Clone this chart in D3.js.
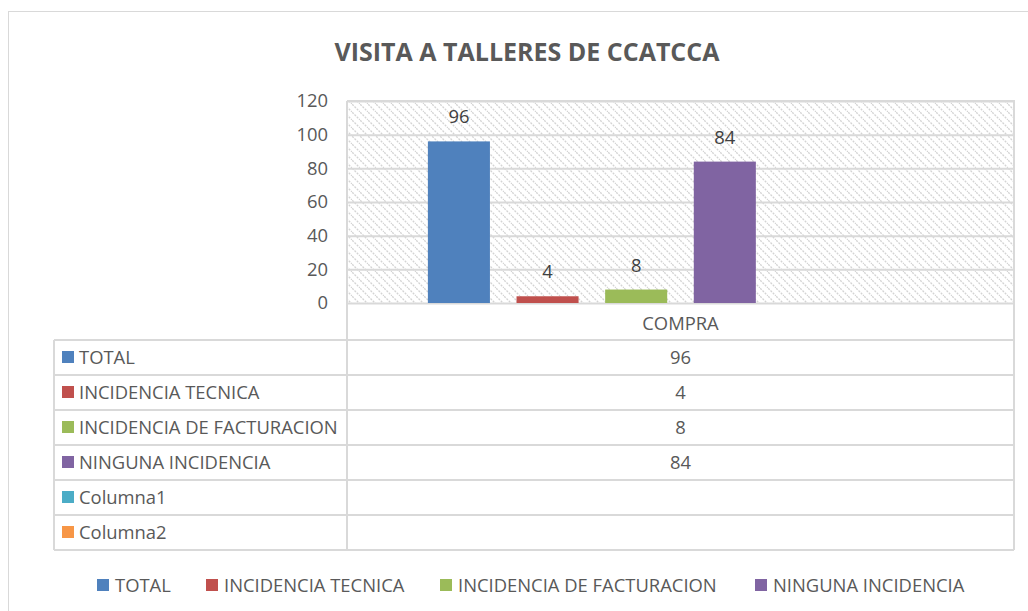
<!DOCTYPE html>
<html>
<head>
<meta charset="utf-8">
<script src="https://cdn.jsdelivr.net/npm/d3@7"></script>
<style>
	body { margin: 0; background: #fff; }
	svg { font-family: "Open Sans", Lato, sans-serif; }
</style>
</head>
<body>
<svg width="1028" height="611"></svg>
<script>
// chart data
const categories = ['COMPRA'];
const seriesNames = ['TOTAL', 'INCIDENCIA TECNICA', 'INCIDENCIA DE FACTURACION', 'NINGUNA INCIDENCIA', 'Columna1', 'Columna2'];
const seriesValues = [96, 4, 8, 84, null, null];
const seriesColors = ['#4f81bd', '#c0504d', '#9bbb59', '#8064a2', '#4bacc6', '#f79646'];
const yTicks = [0, 20, 40, 60, 80, 100, 120];
const legendNames = ['TOTAL', 'INCIDENCIA TECNICA', 'INCIDENCIA DE FACTURACION', 'NINGUNA INCIDENCIA'];

const textColor = '#595959';
const lineColor = '#d9d9d9';
const fs = 18.4;

const svg = d3.select('svg');

// outer chart border
svg.append('rect')
	.attr('x', 8.5).attr('y', 11.5)
	.attr('width', 1030).attr('height', 610)
	.attr('fill', '#fff').attr('stroke', lineColor);

// hatch pattern for the plot background
const defs = svg.append('defs');
const pat = defs.append('pattern')
	.attr('id', 'hatch')
	.attr('patternUnits', 'userSpaceOnUse')
	.attr('width', 8).attr('height', 8);
pat.append('rect').attr('width', 8).attr('height', 8).attr('fill', '#fff');
pat.append('path')
	.attr('d', 'M-2,-2 L10,10 M-2,6 L2,10 M6,-2 L10,2')
	.attr('stroke', '#d4d4d4').attr('stroke-width', 1.3)
	.attr('stroke-dasharray', '2,1.2');

const plotL = 347, plotR = 1014, plotT = 101, plotB = 303;

svg.append('text')
	.attr('x', 527).attr('y', 61)
	.attr('text-anchor', 'middle')
	.attr('font-size', 25).attr('font-weight', 'bold')
	.attr('fill', textColor)
	.text('VISITA A TALLERES DE CCATCCA');

const y = d3.scaleLinear().domain([0, 120]).range([plotB, plotT]);
const x0 = d3.scaleBand().domain(categories).range([plotL, plotR]).padding(0.138);
const x1 = d3.scaleBand().domain(seriesNames).range([0, x0.bandwidth()]).paddingInner(0.3);

svg.append('rect')
	.attr('x', plotL).attr('y', plotT)
	.attr('width', plotR - plotL).attr('height', plotB - plotT)
	.attr('fill', 'url(#hatch)');

// gridlines
svg.append('g')
	.attr('transform', `translate(${plotL},0)`)
	.call(d3.axisLeft(y).tickValues(yTicks).tickSize(-(plotR - plotL)).tickFormat(''))
	.call(g => g.select('.domain').remove())
	.call(g => g.selectAll('line').attr('stroke', lineColor).attr('stroke-width', 2));

// y tick labels
svg.append('g')
	.attr('transform', `translate(${plotL},0)`)
	.call(d3.axisLeft(y).tickValues(yTicks).tickSize(0).tickPadding(19))
	.call(g => g.select('.domain').remove())
	.call(g => g.selectAll('text').attr('fill', textColor).attr('font-size', fs).attr('font-family', '"Open Sans", sans-serif'));

// bars
const grp = svg.selectAll('.grp')
	.data(categories)
	.enter()
	.append('g')
	.attr('transform', d => `translate(${x0(d)},0)`);

const rows = seriesNames.map((s, i) => ({ name: s, value: seriesValues[i], color: seriesColors[i] }))
	.filter(d => d.value !== null);

grp.selectAll('rect')
	.data(rows)
	.enter()
	.append('rect')
	.attr('x', d => x1(d.name))
	.attr('y', d => y(d.value))
	.attr('width', x1.bandwidth())
	.attr('height', d => y(0) - y(d.value))
	.attr('fill', d => d.color);

grp.selectAll('.lbl')
	.data(rows)
	.enter()
	.append('text')
	.attr('x', d => x1(d.name) + x1.bandwidth() / 2)
	.attr('y', d => y(d.value) - 18)
	.attr('text-anchor', 'middle')
	.attr('font-size', fs)
	.attr('fill', '#404040')
	.text(d => d.value);

// plot frame (top, right)
svg.append('path')
	.attr('d', `M${plotL},${plotT}H${plotR}V${plotB}`)
	.attr('fill', 'none').attr('stroke', lineColor).attr('stroke-width', 2);

// data table
const rowH = 35;
const tableTop = 340;
const tableLeft = 54;
const nRows = seriesNames.length;
const tableBottom = tableTop + rowH * nRows;

svg.append('text')
	.attr('x', x0('COMPRA') + x0.bandwidth() / 2).attr('y', 330)
	.attr('text-anchor', 'middle')
	.attr('font-size', fs).attr('fill', textColor)
	.text('COMPRA');

const tbl = svg.append('g').attr('stroke', lineColor).attr('stroke-width', 2).attr('fill', 'none');
tbl.append('line').attr('x1', plotL).attr('x2', plotL).attr('y1', plotT).attr('y2', tableBottom);
tbl.append('line').attr('x1', plotR).attr('x2', plotR).attr('y1', plotB).attr('y2', tableBottom);
tbl.append('line').attr('x1', tableLeft).attr('x2', tableLeft).attr('y1', tableTop).attr('y2', tableBottom);
d3.range(nRows + 1).forEach(i => {
	tbl.append('line')
		.attr('x1', tableLeft).attr('x2', plotR)
		.attr('y1', tableTop + i * rowH).attr('y2', tableTop + i * rowH);
});

const tRows = svg.selectAll('.trow')
	.data(seriesNames)
	.enter()
	.append('g')
	.attr('transform', (d, i) => `translate(0,${tableTop + i * rowH})`);

tRows.append('rect')
	.attr('x', 62).attr('y', 11)
	.attr('width', 12).attr('height', 12)
	.attr('fill', (d, i) => seriesColors[i]);

tRows.append('text')
	.attr('x', 79).attr('y', 24)
	.attr('font-size', fs).attr('fill', textColor)
	.text(d => d);

tRows.append('text')
	.attr('x', (plotL + plotR) / 2).attr('y', 24)
	.attr('text-anchor', 'middle')
	.attr('font-size', fs).attr('fill', textColor)
	.text((d, i) => seriesValues[i] === null ? '' : seriesValues[i]);

// bottom legend
const legendX = [97, 206, 440, 755];
const leg = svg.selectAll('.leg')
	.data(legendNames)
	.enter()
	.append('g')
	.attr('transform', (d, i) => `translate(${legendX[i]},579)`);

leg.append('rect')
	.attr('width', 12).attr('height', 12)
	.attr('fill', (d, i) => seriesColors[i]);

leg.append('text')
	.attr('x', 18).attr('y', 13)
	.attr('font-size', fs).attr('fill', textColor)
	.text(d => d);
</script>
</body>
</html>
